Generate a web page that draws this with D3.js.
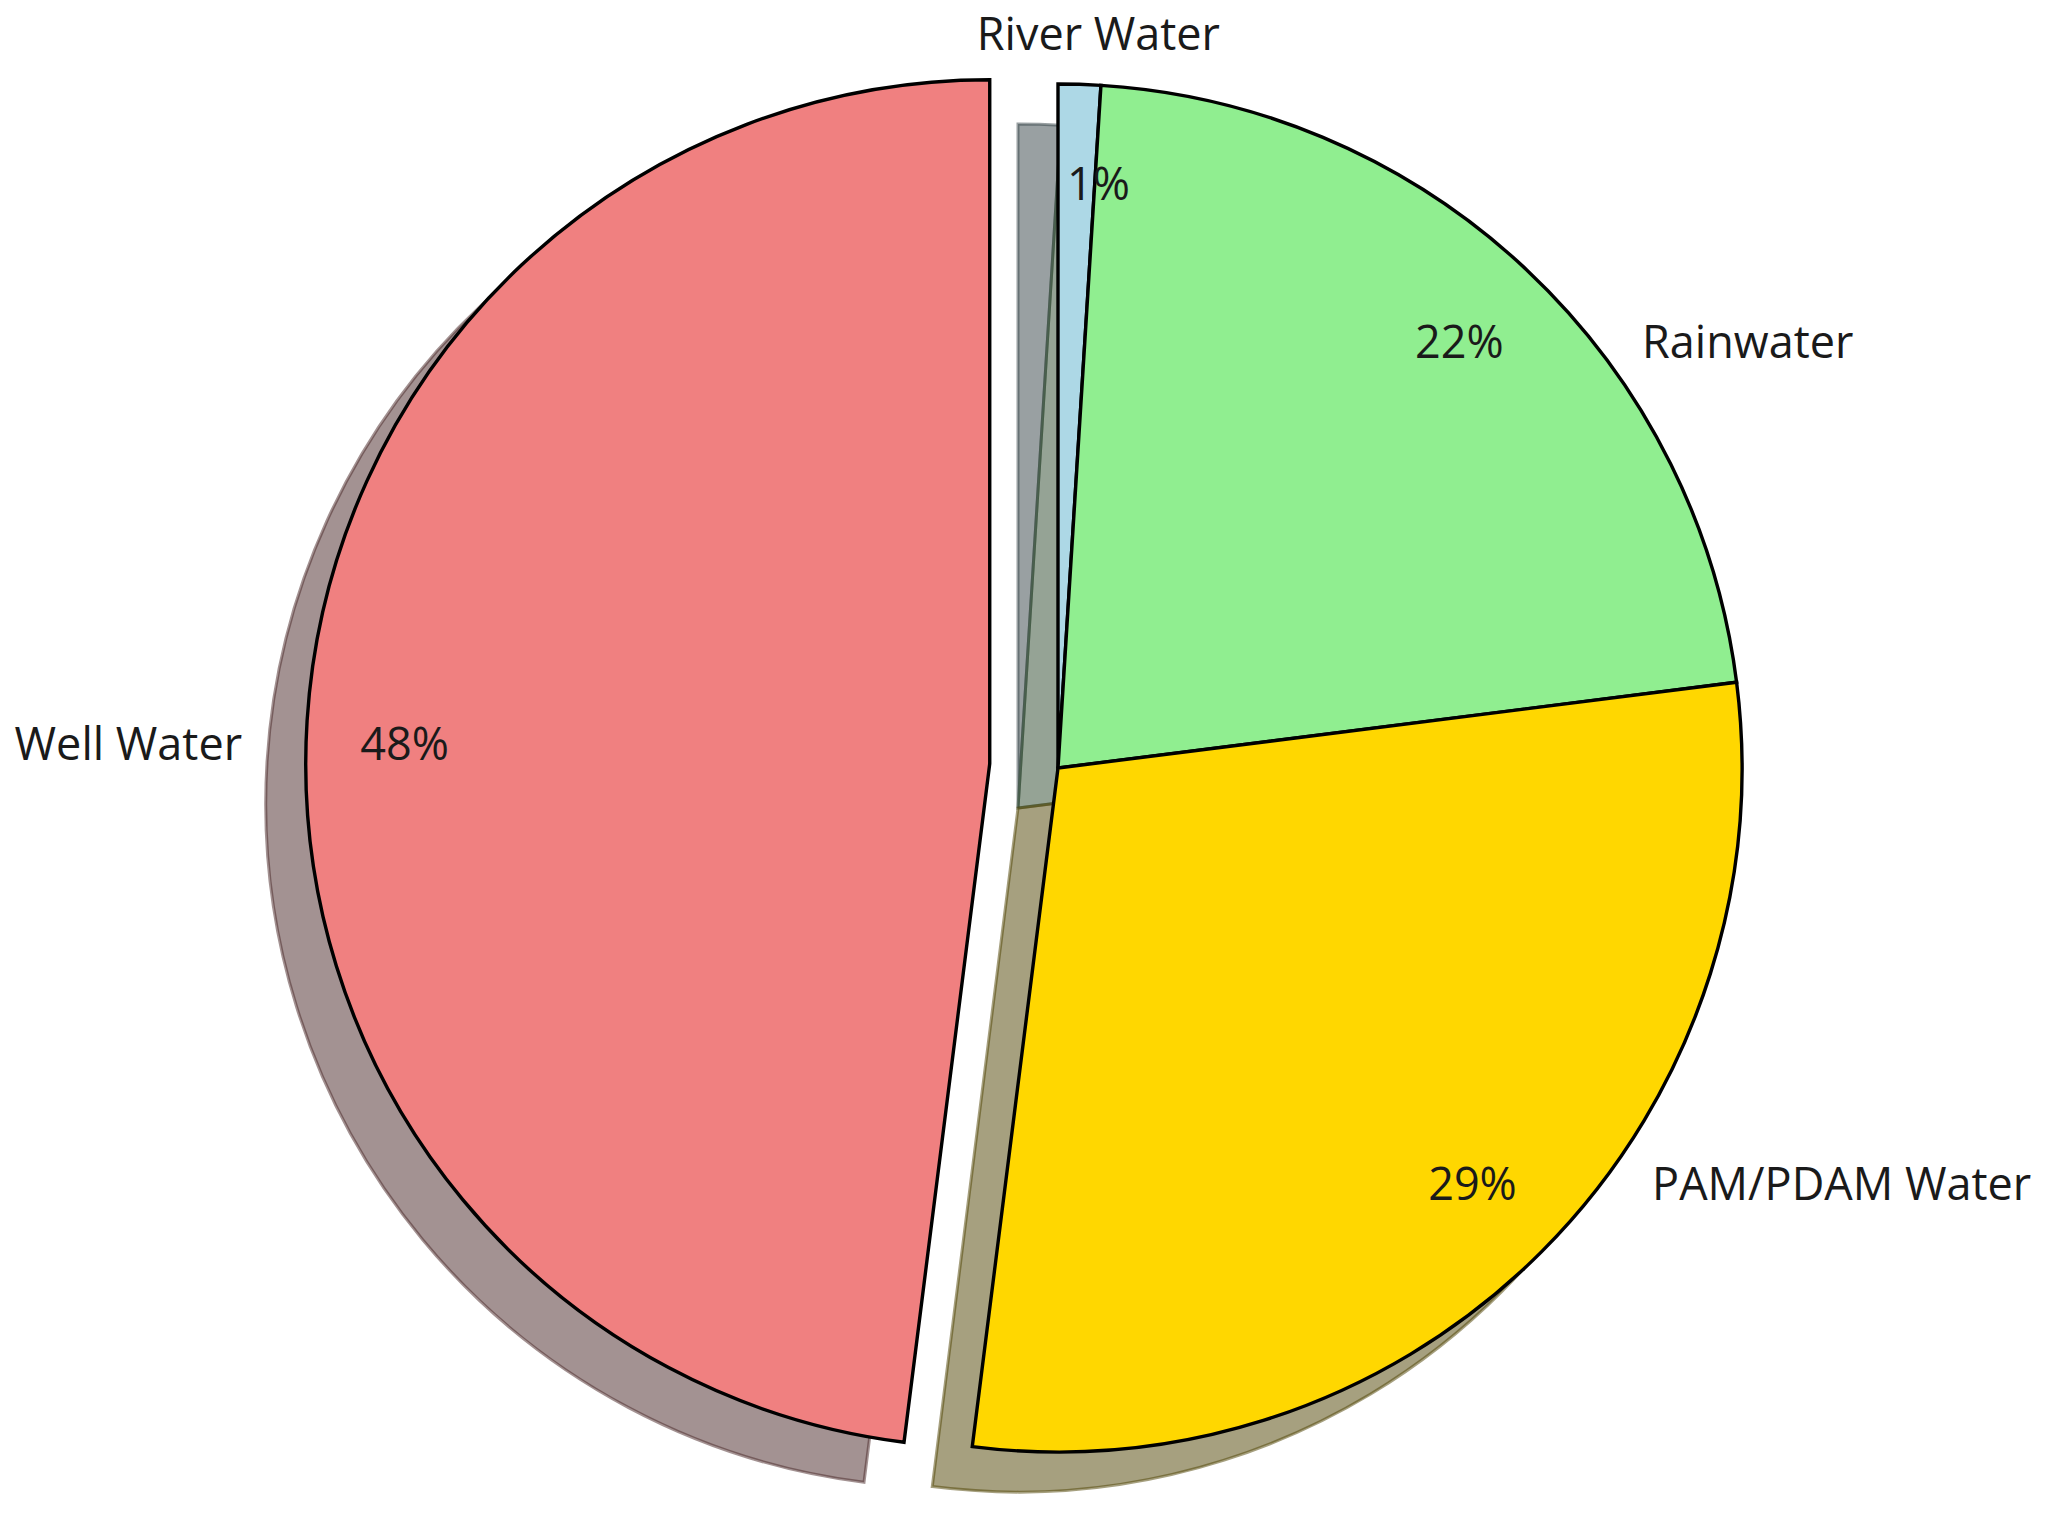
<!DOCTYPE html>
<html><head><meta charset="utf-8">
<script src="https://cdn.jsdelivr.net/npm/d3@7"></script>
<style>html,body{margin:0;padding:0;background:#fff;} svg{display:block}</style>
</head><body>
<svg id="chart" width="2055" height="1520"></svg>
<script>
// ---- data ----
const categories = ["River Water", "Rainwater", "PAM/PDAM Water", "Well Water"];
const values = [1, 22, 29, 48];
const percentLabels = ["1%", "22%", "29%", "48%"];
const colors = ["#ADD8E6", "#90EE90", "#FFD700", "#F08080"];
const explode = [0, 0, 0, 0.1];

// ---- layout ----
const W = 2055, H = 1520;
const cx = 1058, cy = 768, R = 684;
const shadowOffset = { dx: -40, dy: 40 };
const pctDistance = 0.857;
const pctNudge = { "River Water": [22, 0], "Well Water": [0, 16] };
const labelGapRight = 50, labelGapLeft = 64, labelGapTop = 52;
const fontFamily = "'Open Sans', 'Noto Sans', sans-serif";
const fontSize = 45;
const strokeW = 3.4;

const svg = d3.select("#chart").attr("width", W).attr("height", H);
svg.append("rect").attr("width", W).attr("height", H).attr("fill", "#fff");

const pie = d3.pie().sort(null).value(d => d.value).startAngle(0).endAngle(2 * Math.PI);
const rows = categories.map((c, i) => ({ name: c, value: values[i], pct: percentLabels[i], color: colors[i], explode: explode[i] }));
const arcs = pie(rows);
const arc = d3.arc().innerRadius(0).outerRadius(R);
const pctArc = d3.arc().innerRadius(R * pctDistance).outerRadius(R * pctDistance);

arcs.forEach(a => {
  const mid = (a.startAngle + a.endAngle) / 2;
  const off = a.data.explode * R;
  a.ox = cx + off * Math.sin(mid);
  a.oy = cy - off * Math.cos(mid);
  a.mid = mid;
});

function shadowColor(c) {
  const rgb = d3.rgb(c);
  return d3.rgb(rgb.r * 0.3, rgb.g * 0.3, rgb.b * 0.3).formatHex();
}

// shadows
svg.append("g").selectAll("path").data(arcs).join("path")
  .attr("transform", d => `translate(${d.ox + shadowOffset.dx},${d.oy + shadowOffset.dy})`)
  .attr("d", arc)
  .attr("fill", d => shadowColor(d.data.color))
  .attr("fill-opacity", 0.5)
  .attr("stroke", d => shadowColor(d.data.color))
  .attr("stroke-opacity", 0.5)
  .attr("stroke-width", 3)
  .attr("stroke-linejoin", "miter");

// wedges
svg.append("g").selectAll("path").data(arcs).join("path")
  .attr("transform", d => `translate(${d.ox},${d.oy})`)
  .attr("d", arc)
  .attr("fill", d => d.data.color)
  .attr("stroke", "#000")
  .attr("stroke-width", strokeW)
  .attr("stroke-linejoin", "miter");

// percent labels
const gText = svg.append("g").attr("font-family", fontFamily).attr("font-size", fontSize).attr("fill", "#1a1a1a");
arcs.forEach(a => {
  const [px, py] = pctArc.centroid(a);
  const n = pctNudge[a.data.name] || [0, 0];
  a.px = a.ox + px + n[0]; a.py = a.oy + py + n[1];
});
gText.selectAll("text.pct").data(arcs).join("text")
  .attr("class", "pct")
  .attr("x", d => d.px).attr("y", d => d.py)
  .attr("text-anchor", "middle").attr("dominant-baseline", "central")
  .text(d => d.data.pct);

// category labels
gText.selectAll("text.lab").data(arcs).join("text")
  .attr("class", "lab")
  .each(function (d) {
    const sel = d3.select(this);
    const sx = Math.sin(d.mid);
    if (Math.abs(sx) < 0.3) {
      const up = Math.cos(d.mid) > 0;
      sel.attr("x", d.px)
        .attr("y", up ? d.oy - R - labelGapTop : d.oy + R + labelGapTop)
        .attr("text-anchor", "middle");
    } else {
      const dy = d.py - d.oy;
      const half = Math.sqrt(Math.max(0, R * R - dy * dy));
      if (sx > 0) {
        sel.attr("x", d.ox + half + labelGapRight).attr("text-anchor", "start");
      } else {
        sel.attr("x", d.ox - half - labelGapLeft).attr("text-anchor", "end");
      }
      sel.attr("y", d.py);
    }
  })
  .attr("dominant-baseline", "central")
  .text(d => d.data.name);
</script>
</body></html>
